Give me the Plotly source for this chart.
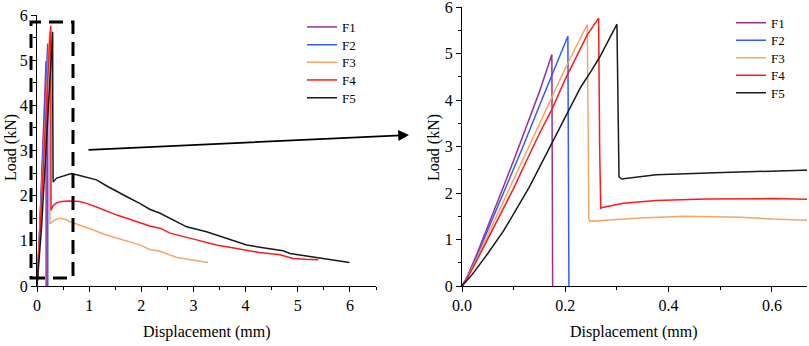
import plotly.graph_objects as go

# ---------------- data ----------------
series_names = ["F1", "F2", "F3", "F4", "F5"]
series_colors = ["#9a2f9a", "#2f5cff", "#f5a566", "#ff1a1a", "#1a1a1a"]

f1_x = [0, 0.01, 0.03, 0.05, 0.08, 0.10, 0.12, 0.15, 0.174, 0.1755]
f1_y = [0, 0.20, 0.72, 1.27, 2.13, 2.70, 3.28, 4.18, 4.98, 0]

f2_x = [0, 0.01, 0.03, 0.05, 0.08, 0.10, 0.12, 0.15, 0.18, 0.205, 0.207]
f2_y = [0, 0.18, 0.68, 1.20, 1.98, 2.50, 3.05, 3.88, 4.68, 5.37, 0]

f3_x = [0, 0.01, 0.03, 0.05, 0.08, 0.10, 0.12, 0.15, 0.18, 0.20, 0.22, 0.2426,
        0.2445, 0.2455, 0.248, 0.27, 0.30, 0.344, 0.43, 0.54, 0.60, 0.70, 0.85,
        1.08, 1.30, 1.53, 1.75, 1.97, 2.16, 2.36, 2.68, 3.00, 3.28]
f3_y = [0, 0.17, 0.62, 1.10, 1.80, 2.28, 2.78, 3.50, 4.20, 4.68, 5.13, 5.62,
        3.00, 1.45, 1.39, 1.40, 1.43, 1.46, 1.50, 1.48, 1.44, 1.40, 1.33,
        1.24, 1.14, 1.06, 0.98, 0.91, 0.81, 0.77, 0.63, 0.57, 0.52]

f4_x = [0, 0.01, 0.03, 0.05, 0.08, 0.10, 0.12, 0.15, 0.175, 0.20, 0.2426, 0.2645,
        0.2665, 0.2686, 0.272, 0.312, 0.376, 0.473, 0.60, 0.82, 0.95, 1.14, 1.33,
        1.53, 1.75, 1.97, 2.16, 2.36, 2.55, 2.93, 3.20, 3.44, 3.83, 4.27, 4.66,
        4.91, 5.15, 5.39]
f4_y = [0, 0.16, 0.58, 1.02, 1.68, 2.10, 2.58, 3.28, 3.82, 4.45, 5.40, 5.76,
        3.00, 1.67, 1.69, 1.78, 1.84, 1.87, 1.88, 1.87, 1.83, 1.75, 1.66,
        1.57, 1.49, 1.40, 1.33, 1.28, 1.17, 1.06, 0.98, 0.91, 0.83, 0.74, 0.69,
        0.61, 0.59, 0.58]

f5_x = [0, 0.02, 0.05, 0.08, 0.10, 0.13, 0.15, 0.175, 0.20, 0.23, 0.25, 0.267, 0.30,
        0.302, 0.304, 0.309, 0.376, 0.505, 0.60, 0.66, 0.80, 0.95, 1.14, 1.33,
        1.53, 1.75, 1.97, 2.16, 2.36, 2.55, 2.87, 3.25, 3.63, 4.02, 4.27, 4.66,
        4.72, 4.85, 5.23, 5.60, 5.99]
f5_y = [0, 0.25, 0.70, 1.18, 1.55, 2.12, 2.55, 3.08, 3.62, 4.28, 4.62, 4.93, 5.63,
        4.00, 2.35, 2.30, 2.39, 2.44, 2.47, 2.49, 2.45, 2.41, 2.35, 2.22,
        2.09, 1.96, 1.83, 1.70, 1.61, 1.50, 1.31, 1.20, 1.06, 0.91, 0.86, 0.80,
        0.78, 0.72, 0.65, 0.59, 0.52]

series_x = [f1_x, f2_x, f3_x, f4_x, f5_x]
series_y = [f1_y, f2_y, f3_y, f4_y, f5_y]

left_xticks = [0, 1, 2, 3, 4, 5, 6]
right_xticks = [0, 0.2, 0.4, 0.6]
y_ticks = [0, 1, 2, 3, 4, 5, 6]

# ---------------- figure ----------------
W, H = 809, 346
FONT = "Liberation Serif"

def px_x(p):
    return p / W

def px_y(p):
    return (H - p) / H

fig = go.Figure()

# legend row geometry (pixels): left panel / right panel
left_leg_x, left_leg_rows = 302, [27, 44.7, 62.4, 80, 97.7]
right_leg_x, right_leg_rows = 731, [22.7, 40.2, 57.7, 75.2, 92.7]

legend_layout = {}
for i, (name, col, xs, ys) in enumerate(zip(series_names, series_colors, series_x, series_y)):
    lid = "legend" if i == 0 else f"legend{i + 1}"
    fig.add_trace(go.Scatter(x=xs, y=ys, mode="lines", name=name,
                             line=dict(color=col, width=1.5),
                             xaxis="x", yaxis="y", legend=lid))
    legend_layout[lid] = dict(x=px_x(left_leg_x), y=px_y(left_leg_rows[i]),
                              xanchor="left", yanchor="middle",
                              bgcolor="rgba(0,0,0,0)", borderwidth=0,
                              font=dict(family=FONT, size=13, color="black"))
for i, (name, col, xs, ys) in enumerate(zip(series_names, series_colors, series_x, series_y)):
    lid = f"legend{i + 6}"
    fig.add_trace(go.Scatter(x=xs, y=ys, mode="lines", name=name,
                             line=dict(color=col, width=1.5),
                             xaxis="x2", yaxis="y2", legend=lid))
    legend_layout[lid] = dict(x=px_x(right_leg_x), y=px_y(right_leg_rows[i]),
                              xanchor="left", yanchor="middle",
                              bgcolor="rgba(0,0,0,0)", borderwidth=0,
                              font=dict(family=FONT, size=13, color="black"))

axis_common = dict(showline=True, linecolor="black", linewidth=1.3,
                   ticks="outside", ticklen=5, tickwidth=1.2, tickcolor="black",
                   showgrid=False, zeroline=False, automargin=False,
                   ticklabeloverflow="allow",
                   tickfont=dict(family=FONT, size=16, color="black"))

fig.update_layout(
    width=W, height=H,
    margin=dict(l=0, r=0, t=0, b=0, pad=0, autoexpand=False),
    paper_bgcolor="white", plot_bgcolor="white",
    font=dict(family=FONT, size=16, color="black"),
    xaxis=dict(domain=[px_x(37), px_x(376)], range=[0, 6.5],
               tickvals=left_xticks, anchor="y",
               minor=dict(dtick=0.5, ticks="outside", ticklen=3, tickcolor="black"),
               **axis_common),
    yaxis=dict(domain=[px_y(286), px_y(15)], range=[0, 6],
               tickvals=y_ticks, anchor="x",
               minor=dict(dtick=0.5, ticks="outside", ticklen=3, tickcolor="black"),
               **axis_common),
    xaxis2=dict(domain=[px_x(462), px_x(807)], range=[0, 0.668],
                tickvals=right_xticks, tickformat=".1f", anchor="y2",
                minor=dict(dtick=0.1, ticks="outside", ticklen=3, tickcolor="black"),
                **axis_common),
    yaxis2=dict(domain=[px_y(286), px_y(7)], range=[0, 6],
                tickvals=y_ticks, anchor="x2",
                minor=dict(dtick=0.5, ticks="outside", ticklen=3, tickcolor="black"),
                **axis_common),
    showlegend=True,
    **legend_layout,
)

# dashed box
fig.add_shape(type="rect", xref="paper", yref="paper",
              x0=px_x(31), x1=px_x(73), y0=px_y(278), y1=px_y(22),
              line=dict(color="black", width=3, dash="14px,8px"))

title_font = dict(family=FONT, size=16, color="black")
annotations = [
    dict(x=px_x(409), y=px_y(135), xref="paper", yref="paper", text="",
         showarrow=True, ax=87 - 409, ay=150 - 135, axref="pixel", ayref="pixel",
         arrowhead=2, arrowsize=1.2, arrowwidth=1.8, arrowcolor="black", standoff=0),
    dict(x=px_x(207), y=px_y(332), xref="paper", yref="paper",
         xanchor="center", yanchor="middle",
         text="Displacement (mm)", showarrow=False, font=title_font),
    dict(x=px_x(634), y=px_y(332), xref="paper", yref="paper",
         xanchor="center", yanchor="middle",
         text="Displacement (mm)", showarrow=False, font=title_font),
    dict(x=px_x(11), y=px_y(148), xref="paper", yref="paper",
         xanchor="center", yanchor="middle",
         text="Load (kN)", showarrow=False, textangle=-90, font=title_font),
    dict(x=px_x(434), y=px_y(148), xref="paper", yref="paper",
         xanchor="center", yanchor="middle",
         text="Load (kN)", showarrow=False, textangle=-90, font=title_font),
]
fig.update_layout(annotations=annotations)

fig.write_html("out.html",
               config={"displayModeBar": False},
               post_script="document.body.style.margin='0';"
                           "document.body.style.overflow='hidden';")
